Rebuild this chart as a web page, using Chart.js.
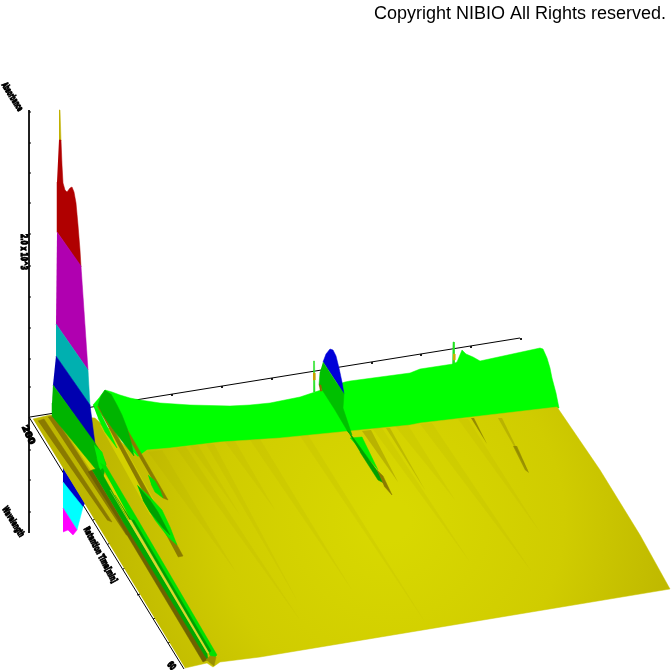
<!DOCTYPE html>
<html>
<head>
<meta charset="utf-8">
<style>
  html, body { margin: 0; padding: 0; background: #fff; }
  #chart { display: block; }
</style>
<script src="https://cdn.jsdelivr.net/npm/chart.js@4/dist/chart.umd.min.js"></script>
</head>
<body>
<canvas id="chart" width="672" height="672"></canvas>
<script>
const backAxis = [[30, 417], [520, 338]];
const heightAxis = [[29, 110], [29, 533]];
const timeAxis = [[29, 417], [184, 669]];

// tick places along the three axes
const backTicks = [[521, 338], [471, 346], [421, 354], [372, 362], [322, 370], [272, 378], [222, 386], [172, 394], [122, 402], [72, 410]];
const heightTicks = [[29, 112], [29, 143], [29, 173], [29, 203], [29, 234], [29, 266], [29, 297], [29, 328], [29, 359], [29, 387], [29, 450], [29, 480], [29, 512]];
const timeTicks = [[48, 443], [63, 469], [78, 494], [93, 520], [108, 544], [123, 569], [137, 595], [153, 619], [168, 643]];

// tall peak, bands from top to bottom
const spikeTop = [[59, 110], [60, 110], [61, 141], [59, 141]];
const bandRed = [[59, 140], [61, 140], [62, 165], [63, 183], [65, 190], [67, 192], [70, 188], [72, 187], [74, 192], [76, 203], [78, 225], [80, 250], [81, 267], [57, 232], [57, 182]];
const bandMagenta = [[57, 232], [81, 266], [88, 370], [56, 324]];
const bandTeal = [[56, 324], [88, 370], [90, 406], [56, 356]];
const bandBlue = [[56, 356], [90, 405], [95, 444], [53, 385]];
const bandGreen = [[53, 385], [95, 443], [101, 452], [106, 464], [103, 478], [52, 416], [52, 403]];

// same peak showing below the front of the floor
const frontBlue = [[63, 468], [85, 503], [82, 508], [63, 482]];
const frontCyan = [[63, 482], [83, 507], [77, 530], [63, 508]];
const frontMagenta = [[63, 508], [77, 530], [73, 535], [68, 530], [63, 532]];

// back wall of the surface
const wallTop = [[93, 405], [99, 398], [105, 390], [112, 392], [120, 395], [130, 398], [140, 400], [160, 403], [190, 405], [230, 406], [250, 405], [270, 403], [300, 397], [315, 392], [345, 382], [350, 381], [410, 373], [420, 369], [453, 364], [457, 362], [462, 350], [466, 354], [473, 357], [480, 361], [540, 348], [543, 349], [547, 358], [550, 368], [552, 378], [556, 393], [559, 408], [420, 425], [280, 440], [170, 450], [138, 458]];
const wallSpikeA = [[313, 392], [313.5, 361], [314.5, 361], [315, 392]];
const wallSpikeB = [[452.5, 365], [453, 342], [454, 342], [454.5, 365]];
const spikeOrangeA = [[313, 373], [315, 373], [315, 380], [313, 380]];
const spikeOrangeB = [[453, 354], [455, 354], [455, 360], [453, 360]];

// floor of the surface
const floor = [[33, 419], [50, 415], [95, 418], [138, 457], [147, 450], [170, 448], [220, 442], [280, 438], [410, 425], [420, 423], [557, 407], [600, 470], [640, 535], [670, 589], [260, 657], [220, 662], [213, 667], [207, 663], [185, 668]];

// faint streaks on the floor, wide at the wall and running out to a point
const streakA = [[176, 448], [186, 447], [300, 620]];
const streakB = [[206, 444], [214, 444], [298, 602]];
const streakC = [[250, 440], [260, 439], [352, 590]];
const streakD = [[372, 428], [382, 428], [470, 562]];
const streakE = [[300, 436], [308, 435], [425, 622]];
const streakF = [[420, 424], [432, 423], [532, 572]];
const streakG = [[148, 452], [162, 450], [236, 572]];
const streakH = [[458, 419], [468, 419], [540, 532]];
const streakI = [[225, 442], [235, 441], [275, 510]];
const streakJ = [[190, 446], [198, 445], [240, 515]];
const streakK = [[395, 426], [408, 425], [455, 500]];

// darker gullies in the streaks
const gullyA = [[471, 418], [474, 418], [487, 444]];
const gullyB = [[498, 418], [502, 418], [529, 473]];
const gullyBEnd = [[513, 446], [517, 446], [529, 473], [525, 470]];
const gullyC = [[362, 431], [371, 430], [398, 482]];
const gullyD = [[386, 428], [390, 428], [425, 490]];

// ridges along the left side, back to front
const ridgeA = [[38, 421], [44, 419], [112, 522], [107, 520]];
const ridgeB = [[48, 417], [54, 416], [130, 535], [126, 535]];
const ridgeC = [[97, 406], [102, 408], [183, 556], [178, 557]];
const ridgeD = [[118, 420], [123, 422], [168, 500], [163, 498]];
const ridgeLight = [[58, 420], [70, 425], [130, 510], [118, 512]];
const ridgeLightB = [[100, 425], [115, 430], [165, 520], [150, 515]];

// long bands running to the front edge, left to right
const longBrown = [[88, 472], [92, 470], [122, 520], [205, 652], [207, 660], [203, 662], [118, 520]];
const longDark = [[92, 470], [99, 468], [128, 520], [207, 653], [208, 660], [205, 656], [122, 520]];
const longLight = [[110, 490], [128, 520], [131, 520], [209, 653], [207, 653]];
const longBright = [[100, 463], [106, 466], [138, 520], [217, 655], [212, 660], [209, 653], [131, 520]];
const longInner = [[115, 495], [131, 520], [134, 520], [211, 651], [209, 653]];
const longTip = [[206, 660], [210, 656], [216, 657], [214, 666], [209, 662]];

// green blobs on the ridges
const blobBright = [[137, 485], [150, 497], [162, 510], [170, 527], [177, 545], [168, 537], [155, 520], [143, 500]];
const blobDark = [[138, 486], [150, 500], [158, 512], [170, 535], [163, 528], [150, 512], [143, 500]];
const blobSmall = [[148, 475], [155, 481], [160, 490], [163, 498], [155, 492], [151, 484]];
const lensLeft = [[93, 405], [100, 412], [108, 428], [117, 448], [105, 432], [98, 418]];
const lensBack = [[94, 445], [102, 452], [106, 465], [100, 470], [97, 458]];
const peakDark = [[105, 390], [101, 396], [98, 405], [103, 415], [115, 432], [125, 445], [134, 456], [131, 442], [127, 428], [122, 415], [117, 405], [111, 394]];

// second peak and its tail
const peakBlue = [[323, 362], [326, 354], [330, 349], [333, 350], [336, 356], [339, 368], [342, 382], [344, 394]];
const peakGreen = [[323, 362], [344, 394], [343, 408], [352, 435], [348, 432], [335, 410], [319, 385], [320, 372]];
const peakStrip = [[347, 430], [352, 436], [378, 472], [386, 484], [378, 480], [360, 452]];
const peakBright = [[350, 438], [362, 437], [378, 470]];
const peakBrown = [[319, 385], [321, 385], [322, 391], [320, 391]];
const peakTail = [[377, 470], [383, 476], [392, 495], [384, 486]];

const copyrightText = 'Copyright NIBIO All Rights reserved.';
const axisTexts = ['Absorbance', '2.0 x 10^3', '200', 'Wavelength', 'Retention Time[min]', '60'];
const axisTextPlaces = [[12, 97, 58, 32], [23, 252, 90, 36], [28, 435, 65, 20], [13, 522, 58, 34], [100, 555, 62, 62], [171, 666, 50, 8]];

const canvas = document.getElementById('chart');
const ctx = canvas.getContext('2d');

const floorShade = ctx.createRadialGradient(390, 520, 20, 390, 520, 300);
floorShade.addColorStop(0, '#d8d800');
floorShade.addColorStop(0.55, '#d0cc00');
floorShade.addColorStop(1, '#bdb600');

const faint = 'rgba(150,140,0,0.09)';

function polygon(points, color, width) {
    return {
        data: points.map(p => ({x: p[0], y: p[1]})),
        showLine: true,
        fill: 'shape',
        backgroundColor: color,
        borderColor: typeof color === 'string' ? color : '#c8c400',
        borderWidth: width === undefined ? 0.5 : width,
        pointRadius: 0,
        tension: 0,
    };
}

function line(points, width) {
    return {
        data: points.map(p => ({x: p[0], y: p[1]})),
        showLine: true,
        fill: false,
        borderColor: '#000',
        borderWidth: width || 1,
        pointRadius: 0,
        tension: 0,
    };
}

function ticks(points, dx, dy) {
    return points.map(p => line([p, [p[0] + dx, p[1] + dy]]));
}

const datasets = [
    line(backAxis),
    line(heightAxis),
    line(timeAxis),
    ...ticks(backTicks, 0, 2),
    ...ticks(heightTicks, 2, 0),
    ...ticks(timeTicks, 3, -1),
    polygon(frontBlue, '#0000c8'),
    polygon(frontCyan, '#00ffff'),
    polygon(frontMagenta, '#ff00ff'),
    polygon(wallSpikeA, '#20e020'),
    polygon(wallSpikeB, '#20e020'),
    polygon(spikeOrangeA, '#c8a000'),
    polygon(spikeOrangeB, '#c8b000'),
    polygon(wallTop, '#00ff00'),
    polygon(peakBlue, '#0000d8'),
    polygon(floor, floorShade),
    ...[streakA, streakB, streakC, streakD, streakE, streakF, streakG, streakH, streakI, streakJ, streakK].map(s => polygon(s, faint, 0)),
    polygon(gullyA, 'rgba(120,110,0,0.7)', 0),
    polygon(gullyB, 'rgba(140,130,0,0.35)', 0),
    polygon(gullyBEnd, 'rgba(120,110,0,0.6)', 0),
    polygon(gullyC, 'rgba(150,140,0,0.45)', 0),
    polygon(gullyD, 'rgba(150,140,0,0.35)', 0),
    polygon(ridgeLight, '#d8d400', 0),
    polygon(ridgeLightB, '#d4d000', 0),
    polygon(ridgeA, '#8a7a00'),
    polygon(ridgeB, '#8a7a00'),
    polygon(ridgeC, '#8a7a00'),
    polygon(ridgeD, '#8a7a00'),
    polygon(peakDark, '#00b400'),
    polygon(lensLeft, '#00f000'),
    polygon(spikeTop, '#c0b000'),
    polygon(bandRed, '#b00000'),
    polygon(bandMagenta, '#b000b0'),
    polygon(bandTeal, '#00b0b0'),
    polygon(bandBlue, '#0000b0'),
    polygon(bandGreen, '#00b400'),
    polygon(lensBack, '#00f000'),
    polygon(longBrown, '#6e6200'),
    polygon(longDark, '#00a800'),
    polygon(longBright, '#00e000'),
    polygon(longInner, '#00a000'),
    polygon(longLight, '#d8d830'),
    polygon(longTip, '#9a9000'),
    polygon(blobBright, '#00e800'),
    polygon(blobDark, '#00a000'),
    polygon(blobSmall, '#00e000'),
    polygon(peakGreen, '#00c000'),
    polygon(peakBright, '#00f000'),
    polygon(peakStrip, '#00a000'),
    polygon(peakBrown, '#8a6a00'),
    polygon(peakTail, '#8a7a00'),
];

// Chart.js paints the first dataset last, the list above runs back to front
datasets.reverse();

// every text on the picture is tiny and rotated, or sits in the corner
const picTexts = {
    id: 'picTexts',
    afterDraw(chart) {
        const c = chart.ctx;
        c.save();
        c.fillStyle = '#000';
        c.textBaseline = 'alphabetic';
        c.textAlign = 'right';
        c.font = '18px "Liberation Sans"';
        c.fillText(copyrightText, 666, 19);
        c.textAlign = 'center';
        c.textBaseline = 'middle';
        axisTexts.forEach((t, i) => {
            const [x, y, angle, len] = axisTextPlaces[i];
            c.save();
            c.translate(x, y);
            c.rotate(angle * Math.PI / 180);
            c.font = 'bold 9px "DejaVu Sans"';
            const w = c.measureText(t).width;
            c.scale(len / w, 1);
            c.lineWidth = 1.2;
            c.strokeText(t, 0, 0);
            c.fillText(t, 0, 0);
            c.restore();
        });
        c.restore();
    }
};

new Chart(ctx, {
    type: 'scatter',
    data: {datasets: datasets},
    options: {
        responsive: false,
        animation: false,
        layout: {padding: 0},
        plugins: {legend: {display: false}, title: {display: false}, tooltip: {enabled: false}},
        scales: {
            x: {type: 'linear', min: 0, max: 672, display: false},
            y: {type: 'linear', min: 0, max: 672, reverse: true, display: false},
        },
    },
    plugins: [picTexts],
});
</script>
</body>
</html>
